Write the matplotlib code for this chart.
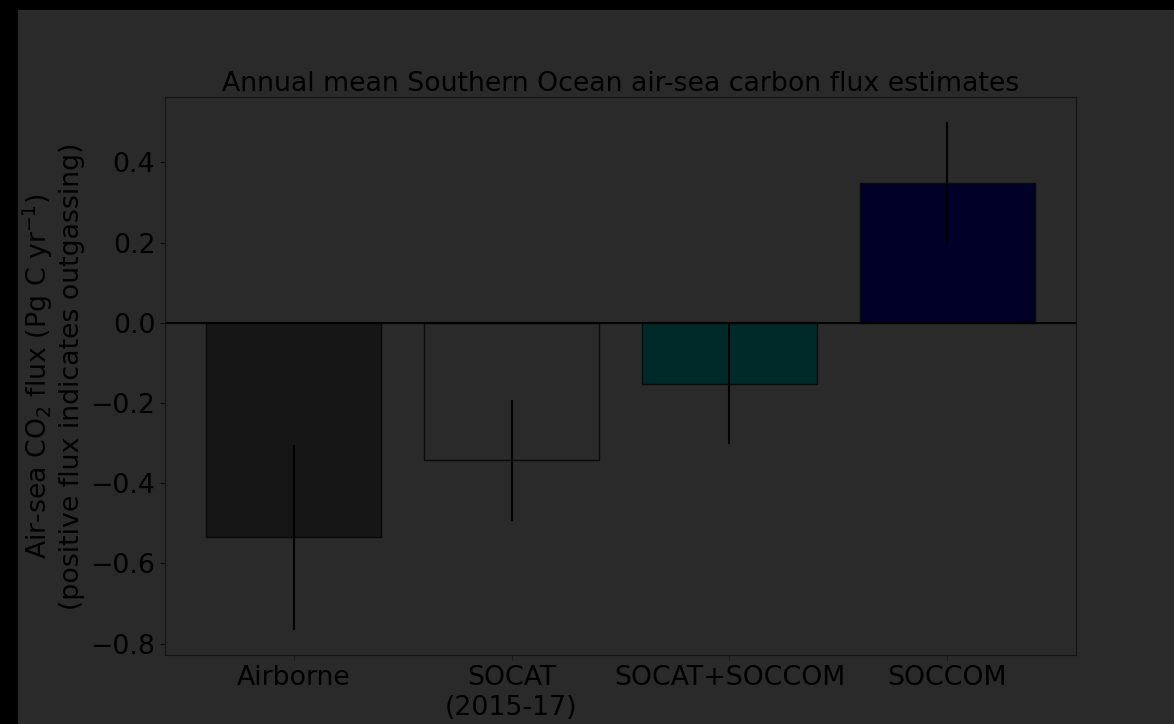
import matplotlib
matplotlib.use('Agg')
import matplotlib.pyplot as plt
from matplotlib.patches import Rectangle

# flux estimates (Pg C / yr), positive = outgassing
labels = ['Airborne', 'SOCAT\n(2015-17)', 'SOCAT+SOCCOM', 'SOCCOM']
flux = [-0.535, -0.343, -0.152, 0.35]
flux_err = [0.23, 0.15, 0.15, 0.15]
colors = ['#161616', '#2a2a2a', '#002a2a', '#000028']

bg = '#2a2a2a'
fs = 19.3

fig = plt.figure(figsize=(11.74, 7.24), dpi=100, facecolor='black')
# dark panel leaving a black strip on the left and top
fig.patches.append(Rectangle((18/1174, 0), 1 - 18/1174, 1 - 10/724,
                             transform=fig.transFigure, facecolor=bg,
                             edgecolor='none', zorder=-10))

ax = fig.add_axes([165/1174, 1 - 655/724, (1076-165)/1174, (655-97)/724])
ax.set_zorder(1)
ax.set_facecolor(bg)

x = range(len(labels))
ax.bar(x, flux, width=0.8, color=colors, edgecolor='#0a0a0a', linewidth=1.0,
       yerr=flux_err, ecolor='black', error_kw=dict(elinewidth=1.5, capsize=0))
ax.axhline(0, color='black', linewidth=1.5)

ax.set_xticks(list(x))
ax.set_xticklabels(labels, fontsize=fs, color='black')
ax.tick_params(axis='y', labelsize=fs, colors='#0a0a0a', labelcolor='black')
ax.tick_params(axis='x', colors='#1a1a1a', labelcolor='black')
ax.set_yticks([-0.8, -0.6, -0.4, -0.2, 0.0, 0.2, 0.4])
for s in ax.spines.values():
    s.set_color('#151515')

ax.set_ylabel('Air-sea CO$_2$ flux (Pg C yr$^{-1}$)\n(positive flux indicates outgassing)',
              fontsize=fs, color='black')
ax.set_title('Annual mean Southern Ocean air-sea carbon flux estimates',
             fontsize=fs, color='black', pad=4)

fig.savefig('out.png', dpi=100, facecolor=fig.get_facecolor())
